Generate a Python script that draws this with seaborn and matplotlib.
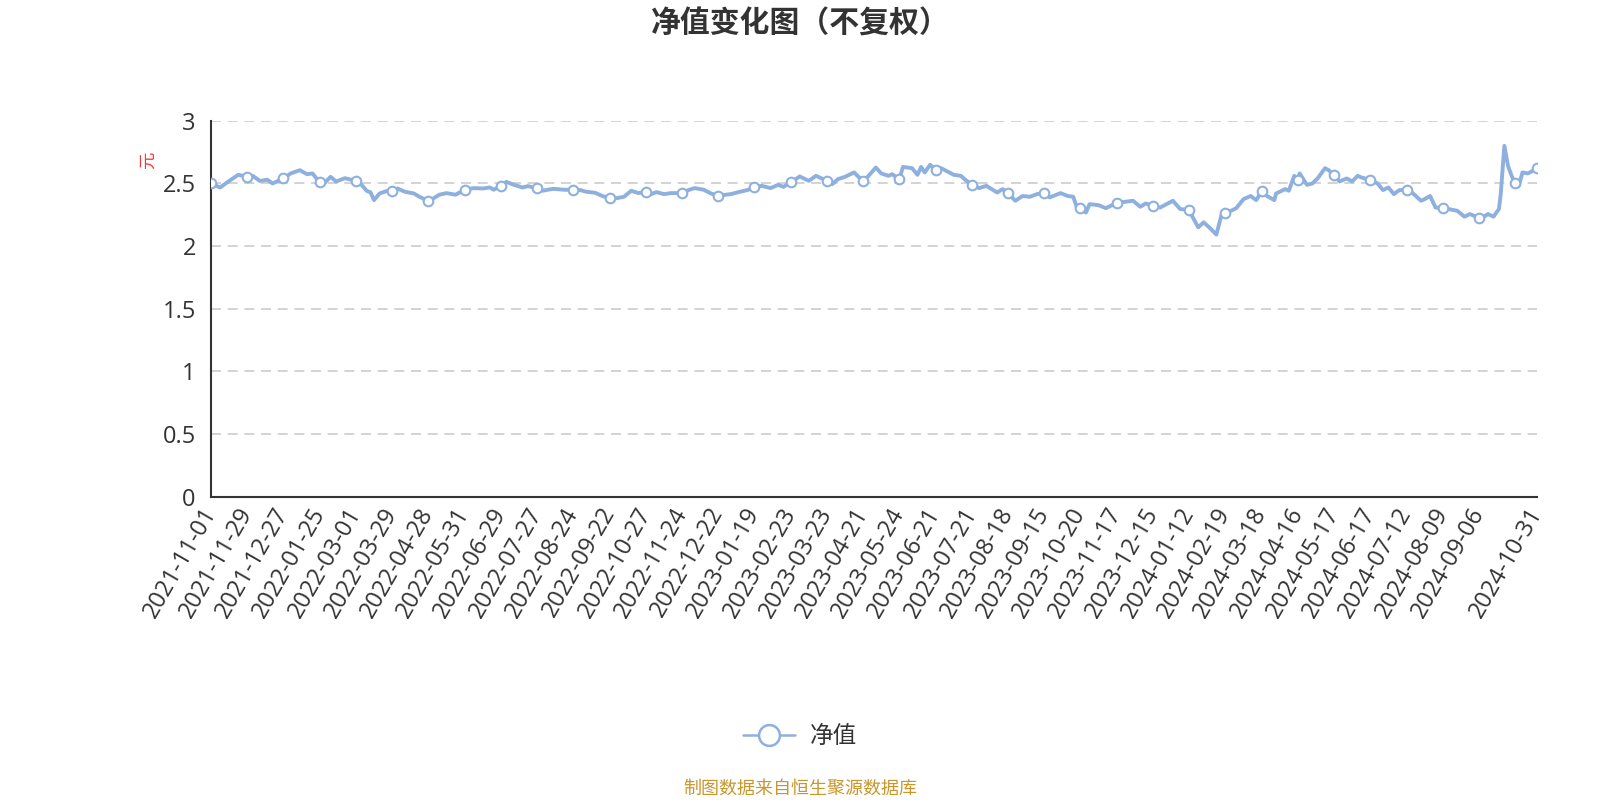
import numpy as np
import pandas as pd
import matplotlib
matplotlib.use('Agg')
import matplotlib.pyplot as plt
from matplotlib.lines import Line2D
import seaborn as sns

# trading-day number of each reading (0 = 2021-11-01, 732 = 2024-10-31)
day_idx = [0, 5, 10, 15, 20, 23, 27, 31, 34, 40, 44, 49, 53, 56, 60, 62, 66, 69, 74, 80,
           83, 86, 88, 90, 93, 97, 100, 103, 107, 112, 115, 120, 123, 126, 130, 135, 140,
           145, 150, 154, 156, 160, 163, 167, 172, 175, 180, 183, 186, 189, 195, 200,
           204, 207, 212, 216, 220, 224, 228, 232, 236, 240, 242, 246, 250, 254, 260,
           264, 267, 272, 276, 280, 284, 287, 292, 296, 300, 304, 309, 313, 316, 320,
           325, 330, 334, 340, 343, 346, 350, 355, 360, 363, 367, 370, 374, 376, 380,
           382, 387, 390, 392, 394, 397, 400, 403, 406, 410, 414, 416, 420, 424, 428,
           434, 437, 440, 444, 448, 452, 456, 460, 463, 469, 473, 476, 478, 480, 483,
           485, 490, 494, 500, 505, 509, 513, 516, 520, 524, 531, 535, 540, 542, 545,
           548, 552, 555, 558, 560, 564, 566, 570, 574, 577, 580, 583, 587, 588, 593,
           595, 598, 600, 601, 605, 608, 611, 615, 617, 620, 623, 627, 630, 633, 635,
           640, 644, 647, 650, 653, 656, 660, 663, 668, 670, 673, 676, 680, 683, 688,
           692, 695, 700, 703, 705, 708, 711, 712, 714, 716, 718, 720, 722, 724, 727,
           729, 732]
nav = [2.500, 2.468, 2.520, 2.569, 2.553, 2.561, 2.520, 2.530, 2.500, 2.540, 2.580, 2.606,
       2.574, 2.580, 2.508, 2.495, 2.553, 2.516, 2.542, 2.520, 2.490, 2.440, 2.430, 2.367,
       2.420, 2.440, 2.440, 2.460, 2.434, 2.420, 2.394, 2.360, 2.383, 2.410, 2.423, 2.410,
       2.450, 2.463, 2.460, 2.468, 2.450, 2.479, 2.513, 2.490, 2.468, 2.479, 2.460, 2.442,
       2.450, 2.457, 2.450, 2.450, 2.447, 2.434, 2.426, 2.400, 2.383, 2.383, 2.394, 2.442,
       2.423, 2.434, 2.410, 2.431, 2.415, 2.423, 2.423, 2.450, 2.463, 2.450, 2.420, 2.400,
       2.410, 2.415, 2.434, 2.447, 2.468, 2.481, 2.463, 2.489, 2.473, 2.508, 2.556, 2.521,
       2.561, 2.521, 2.495, 2.534, 2.553, 2.588, 2.516, 2.561, 2.627, 2.580, 2.561, 2.574,
       2.534, 2.632, 2.622, 2.569, 2.632, 2.588, 2.649, 2.609, 2.622, 2.600, 2.569, 2.561,
       2.534, 2.489, 2.463, 2.481, 2.428, 2.455, 2.420, 2.362, 2.400, 2.394, 2.415, 2.426,
       2.389, 2.423, 2.400, 2.394, 2.308, 2.303, 2.268, 2.335, 2.327, 2.303, 2.345, 2.354,
       2.362, 2.314, 2.340, 2.322, 2.308, 2.362, 2.296, 2.288, 2.230, 2.150, 2.190, 2.137,
       2.092, 2.257, 2.264, 2.288, 2.303, 2.375, 2.400, 2.367, 2.436, 2.400, 2.367, 2.420,
       2.455, 2.442, 2.561, 2.527, 2.580, 2.489, 2.500, 2.542, 2.622, 2.606, 2.566, 2.516,
       2.540, 2.516, 2.561, 2.548, 2.529, 2.500, 2.447, 2.468, 2.415, 2.447, 2.450, 2.428,
       2.362, 2.375, 2.400, 2.308, 2.303, 2.296, 2.282, 2.235, 2.256, 2.225, 2.238, 2.256,
       2.235, 2.296, 2.415, 2.800, 2.641, 2.561, 2.500, 2.481, 2.588, 2.580, 2.596, 2.620]

tick_dates = ['2021-11-01', '2021-11-29', '2021-12-27', '2022-01-25', '2022-03-01',
              '2022-03-29', '2022-04-28', '2022-05-31', '2022-06-29', '2022-07-27',
              '2022-08-24', '2022-09-22', '2022-10-27', '2022-11-24', '2022-12-22',
              '2023-01-19', '2023-02-23', '2023-03-23', '2023-04-21', '2023-05-24',
              '2023-06-21', '2023-07-21', '2023-08-18', '2023-09-15', '2023-10-20',
              '2023-11-17', '2023-12-15', '2024-01-12', '2024-02-19', '2024-03-18',
              '2024-04-16', '2024-05-17', '2024-06-17', '2024-07-12', '2024-08-09',
              '2024-09-06', '2024-10-31']

df = pd.DataFrame({'day': day_idx, 'nav': nav})
last_day = df['day'].max()
marks = df[(df['day'] % 20 == 0) | (df['day'] == last_day)]

sns.set_style('white')
plt.rcParams['font.family'] = ['Open Sans', 'Noto Sans CJK SC', 'DejaVu Sans']

line_color = '#8eb0df'
fig = plt.figure(figsize=(16, 8), dpi=100)
ax = fig.add_axes([0.1319, 0.379, 0.8287, 0.470])

sns.lineplot(data=df, x='day', y='nav', color=line_color, linewidth=2.8, ax=ax)
sns.scatterplot(data=marks, x='day', y='nav', color='white', edgecolor=line_color,
                linewidth=1.5, s=48, zorder=5, ax=ax)

ax.set_xlim(0, last_day)
ax.set_ylim(0, 3)
ax.set_yticks(np.arange(0, 3.01, 0.5))
ax.set_yticklabels(['0', '0.5', '1', '1.5', '2', '2.5', '3'])
ax.yaxis.grid(True, color='#cccccc', linestyle=(0, (6, 4)), linewidth=1.2)
ax.xaxis.grid(False)

xt = list(range(0, 721, 20)) + [last_day]
xl = tick_dates[:-1] + [''] + [tick_dates[-1]]
ax.set_xticks(xt)
ax.set_xticklabels(xl, rotation=60, ha='right', va='center', rotation_mode='anchor')
ax.set_xlabel('')
ax.set_ylabel('')

for s in ['top', 'right']:
    ax.spines[s].set_visible(False)
for s in ['left', 'bottom']:
    ax.spines[s].set_color('#333333')
    ax.spines[s].set_linewidth(1.5)
ax.tick_params(axis='both', which='major', colors='#333333', labelsize=17,
               length=6, width=1.5, direction='out')
ax.tick_params(axis='x', pad=3)
ax.tick_params(axis='y', pad=5)
ax.set_axisbelow(True)

fig.text(0.5, 0.969, '净值变化图（不复权）', ha='center', va='center',
         fontsize=21.5, fontweight='bold', color='#333333')
fig.text(0.093, 0.80, '元', ha='center', va='center', rotation=90,
         fontsize=12.5, color='#ff3333')

handle = Line2D([], [], color=line_color, linewidth=1.8, marker='o', markersize=15,
                markerfacecolor='white', markeredgecolor=line_color, markeredgewidth=1.8)
fig.legend([handle], ['净值'], loc='center', bbox_to_anchor=(0.5, 0.079), frameon=False,
           fontsize=17, handlelength=2.2, handletextpad=0.6, labelcolor='#333333')

fig.text(0.5, 0.014, '制图数据来自恒生聚源数据库', ha='center', va='center',
         fontsize=13, color='#c9962b')

fig.savefig('out.png', dpi=100)
